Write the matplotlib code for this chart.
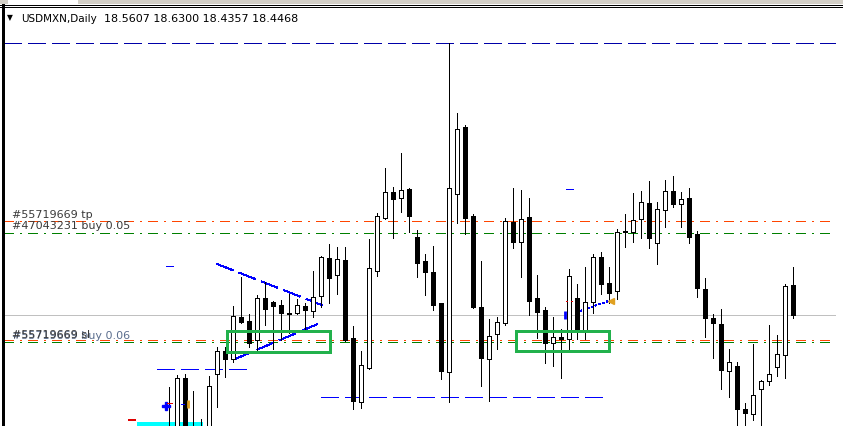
import matplotlib
matplotlib.use("Agg")
import matplotlib.pyplot as plt
from matplotlib.patches import Rectangle
from matplotlib.lines import Line2D
import matplotlib.transforms as mtransforms

plt.rcParams['lines.scale_dashes'] = False
plt.rcParams['font.family'] = ['DejaVu Sans']

# ---------------- data ----------------
symbol = "USDMXN,Daily"
ohlc_text = "18.5607 18.6300 18.4357 18.4468"

opens = [17.99, 17.98, 18.202, 17.99, 17.99, 17.99, 18.217, 18.307, 18.275, 18.439,
         18.422, 18.349, 18.510, 18.4955, 18.484, 18.454, 18.454, 18.480, 18.460, 18.5185,
         18.6635, 18.599, 18.657, 18.356, 18.112, 18.2405, 18.616, 18.8174, 18.917, 18.894,
         18.930, 18.7466, 18.6543, 18.612, 18.4928, 18.225, 18.9097, 19.1697, 18.826, 18.477,
         18.275, 18.371, 18.416, 18.803, 18.7274, 18.8212, 18.5108, 18.4647, 18.339, 18.3597,
         18.352, 18.5108, 18.3878, 18.4943, 18.6685, 18.5685, 18.5366, 18.7685, 18.7635, 18.8135,
         18.8751, 18.7212, 18.8482, 18.9212, 18.8712, 18.894, 18.757, 18.5443, 18.4328, 18.4108,
         18.2301, 18.2493, 18.083, 18.0635, 18.1597, 18.1916, 18.2443, 18.2916, 18.5607]
highs = [18.167, 18.215, 18.219, 18.153, 18.044, 18.211, 18.3235, 18.3235, 18.480, 18.593,
         18.448, 18.522, 18.571, 18.499, 18.503, 18.526, 18.506, 18.4905, 18.6135, 18.6735,
         18.7185, 18.706, 18.706, 18.403, 18.307, 18.738, 18.8366, 19.012, 18.939, 19.067,
         18.933, 18.7724, 18.680, 18.711, 18.493, 19.4905, 19.2212, 19.1762, 18.834, 18.653,
         18.429, 18.439, 18.8197, 18.934, 18.926, 18.8955, 18.599, 18.475, 18.439, 18.3916,
         18.6224, 18.5647, 18.6312, 18.680, 18.6878, 18.6312, 18.7762, 18.834, 18.9158, 18.9224,
         18.9608, 18.8789, 18.9647, 18.9801, 18.9185, 18.933, 18.7685, 18.5889, 18.449, 18.4685,
         18.3147, 18.2658, 18.1058, 18.3328, 18.1955, 18.407, 18.3685, 18.5647, 18.6300]
lows = [17.93, 17.95, 17.96, 17.95, 17.96, 17.97, 18.093, 18.206, 18.266, 18.4135,
        18.321, 18.311, 18.407, 18.3135, 18.349, 18.375, 18.449, 18.3905, 18.439, 18.477,
        18.4905, 18.525, 18.3466, 18.083, 18.0866, 18.238, 18.5955, 18.815, 18.743, 18.843,
        18.766, 18.593, 18.5224, 18.4647, 18.1993, 18.112, 18.8005, 18.7558, 18.4735, 18.1735,
        18.116, 18.3135, 18.407, 18.705, 18.593, 18.4466, 18.356, 18.262, 18.2505, 18.2043,
        18.3147, 18.352, 18.352, 18.452, 18.526, 18.4905, 18.5082, 18.7082, 18.7274, 18.743,
        18.7043, 18.6405, 18.7828, 18.862, 18.7851, 18.7212, 18.5158, 18.362, 18.279, 18.1597,
        18.1289, 18.00, 18.00, 18.0416, 18.00, 18.1762, 18.212, 18.2043, 18.4357]
closes = [18.00, 18.202, 17.99, 18.00, 18.005, 18.172, 18.307, 18.275, 18.442, 18.420,
          18.339, 18.510, 18.470, 18.480, 18.452, 18.448, 18.483, 18.4635, 18.516, 18.667,
          18.587, 18.660, 18.349, 18.116, 18.253, 18.625, 18.826, 18.9197, 18.892, 18.926,
          18.826, 18.6466, 18.612, 18.484, 18.2312, 18.9328, 19.1608, 18.8197, 18.477, 18.279,
          18.3647, 18.4174, 18.807, 18.7274, 18.815, 18.5005, 18.458, 18.339, 18.362, 18.352,
          18.5955, 18.3878, 18.4943, 18.6685, 18.5658, 18.5312, 18.7647, 18.7628, 18.8097, 18.8789,
          18.7405, 18.852, 18.9212, 18.8712, 18.8905, 18.7466, 18.5482, 18.4328, 18.4135, 18.2339,
          18.2635, 18.083, 18.0674, 18.1366, 18.1916, 18.2174, 18.2943, 18.557, 18.4468]

# order lines
tp_label, tp_level = "#55719669 tp", 18.8058
buy1_label, buy1_level = "#47043231 buy 0.05", 18.7597
sl_label, sl_level = "#55719669 sl", 18.3512
buy2_label, buy2_level = "#55719669 buy 0.06", 18.3405
high_level = 19.4905
bid_level = closes[-1]

# blue dashed horizontal segments: (x_start, x_end, level)
blue_segments = [(-1.6, 9.9, 18.2378), (18.96, 54.2, 18.132)]
blue_stubs = [(-0.4, 0.5, 18.634), (49.6, 50.5, 18.929)]
# trend lines: (x0, y0, x1, y1)
trend_dashed = [(5.93, 18.642, 19.87, 18.474), (8.21, 18.276, 19.25, 18.420)]
trend_dotted = [(51.34, 18.461, 54.87, 18.499)]
# green zone rectangles: (x0, x1, y_low, y_high)
zones = [(7.25, 20.125, 18.3032, 18.3828), (43.375, 55.0, 18.307, 18.3828)]

# ---------------- figure ----------------
W, H = 843, 426
fig = plt.figure(figsize=(W / 100, H / 100), dpi=100)
ax = fig.add_axes([0, 0, 1, 1])
ax.set_axis_off()
x0pix, step = 169.3, 8.0
ax.set_xlim(-x0pix / step, (W - x0pix) / step)
ax.set_ylim(18.01854, 19.657)

PX = 0.72  # one pixel in points
dash_blue = (0, (18 * PX, 6 * PX))
dashdot = (0, (9.3 * PX, 6.7 * PX, 2 * PX, 6 * PX))
xl = (-20.7, 83.2)
AA = False

# horizontal lines
ax.plot(xl, [high_level] * 2, color='#0000A8', lw=PX, linestyle=dash_blue, zorder=1, antialiased=AA)
ax.plot(xl, [bid_level] * 2, color='#C0C0C0', lw=PX, zorder=1, antialiased=AA)
ax.plot(xl, [tp_level] * 2, color='#FF4500', lw=PX, linestyle=dashdot, zorder=1, antialiased=AA)
ax.plot(xl, [sl_level] * 2, color='#FF4500', lw=PX, linestyle=dashdot, zorder=1, antialiased=AA)
ax.plot(xl, [buy1_level] * 2, color='#008000', lw=PX, linestyle=dashdot, zorder=1, antialiased=AA)
ax.plot(xl, [buy2_level] * 2, color='#008000', lw=PX, linestyle=dashdot, zorder=1, antialiased=AA)

for xa, xb, lv in blue_segments:
    ax.plot([xa, xb], [lv, lv], color='#0000FF', lw=PX, linestyle=dash_blue, zorder=1,
            antialiased=AA)
for xa, xb, lv in blue_stubs:
    ax.plot([xa, xb], [lv, lv], color='#0000FF', lw=PX, zorder=1, antialiased=AA)
for xa, ya, xb, yb in trend_dashed:
    ax.plot([xa, xb], [ya, yb], color='#0000FF', lw=PX, linestyle=(0, (17 * PX, 6 * PX)),
            zorder=1, antialiased=AA)
for xa, ya, xb, yb in trend_dotted:
    ax.plot([xa, xb], [ya, yb], color='#0000FF', lw=PX,
            linestyle=(0, (1.5 * PX, 2.5 * PX)), zorder=1, antialiased=AA)

# candles
bw = 0.5
for i, (o, h, l, c) in enumerate(zip(opens, highs, lows, closes)):
    ax.plot([i, i], [l, h], color='black', lw=PX, zorder=2, solid_capstyle='butt',
            antialiased=AA)
    lo, hi = min(o, c), max(o, c)
    face = 'white' if c >= o else 'black'
    ax.add_patch(Rectangle((i - bw / 2, lo), bw, max(hi - lo, 0.0008),
                           facecolor=face, edgecolor='black', lw=PX, zorder=3,
                           antialiased=AA))

# zones
for xa, xb, ya, yb in zones:
    ax.add_patch(Rectangle((xa, ya), xb - xa, yb - ya, fill=False,
                           edgecolor='#22B14C', lw=3 * PX, zorder=4, antialiased=AA))

# small trade markers
ax.plot([-0.45], [18.094], marker='P', color='#0000FF', ms=6, zorder=5)
ax.plot([-0.35, 0.35], [18.107, 18.107], color='#E00000', lw=PX, zorder=5, antialiased=AA)
ax.plot([1.45, 1.85], [18.102, 18.102], color='#0000FF', lw=PX, zorder=5, antialiased=AA)
ax.plot([2.35], [18.105], marker='|', color='#E0A020', ms=6, mew=2, zorder=5)
ax.plot([-5.1, -4.3], [18.042, 18.042], color='#E00000', lw=PX * 1.5, zorder=5, antialiased=AA)
ax.plot([-3.8, 3.9], [18.026, 18.026], color='#00FFFF', lw=PX * 2.5, zorder=1, antialiased=AA)
ax.plot([49.5], [18.446], marker='|', color='#0000FF', ms=6, mew=2, zorder=5)
ax.plot([49.55, 50.3], [18.5005, 18.5005], color='#E00000', lw=PX,
        linestyle=(0, (1.5 * PX, 4 * PX)), zorder=5, antialiased=AA)
ax.plot([55.2], [18.501], marker='<', color='#E0A020', ms=5, zorder=5)

# order labels
def label(txt, lv, dy, color):
    tr = mtransforms.offset_copy(ax.transData, fig=fig, x=0, y=dy, units='dots')
    ax.text((11.7 - x0pix) / step, lv, txt, transform=tr, fontsize=8,
            color=color, va='baseline', ha='left', zorder=6)

label(tp_label, tp_level, 3.3, '#3A3A3A')
label(buy1_label, buy1_level, 4.0, '#3A3A3A')
label(buy2_label, buy2_level, 3.0, '#5B6E8E')
label(sl_label, sl_level, 2.0, '#3A3A3A')

# window chrome
fig.add_artist(Rectangle((0, 1 - 3.5 / H), 1, 3.5 / H, transform=fig.transFigure,
                         facecolor='#D4D0C8', edgecolor='none'))
fig.add_artist(Rectangle((8 / W, 1 - 3.5 / H), 70 / W, 3.5 / H, transform=fig.transFigure,
                         facecolor='white', edgecolor='none'))
for yy in (4.5, 6.8):
    fig.add_artist(Line2D([0, 1], [1 - yy / H] * 2, transform=fig.transFigure,
                          color='black', lw=PX, antialiased=AA))
fig.add_artist(Line2D([2.8 / W] * 2, [0, 1 - 4.5 / H], transform=fig.transFigure,
                      color='black', lw=PX * 1.3, antialiased=AA))

fig.text(7 / W, 1 - 20 / H, '\u25BC', fontsize=5.5, color='black', va='baseline')
fig.text(21 / W, 1 - 21.7 / H, symbol, fontsize=7.5, color='black', va='baseline')
fig.text(104 / W, 1 - 21.7 / H, ohlc_text, fontsize=8, color='black', va='baseline')

fig.savefig('out.png', dpi=100, facecolor='white')
